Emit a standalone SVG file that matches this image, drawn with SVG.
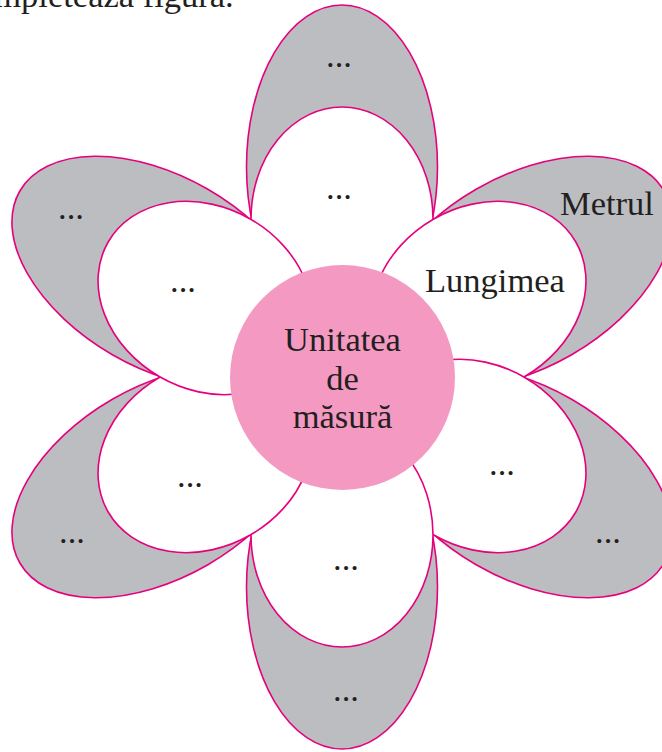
<svg xmlns="http://www.w3.org/2000/svg" width="662" height="752" viewBox="0 0 662 752">
<style>
.outer{fill:#bcbdc0;stroke:#e6007e;stroke-width:1.6}
.inner{fill:#ffffff;stroke:#e6007e;stroke-width:1.6}
.t{font-family:"Liberation Serif","Times New Roman",serif;font-size:34.5px;fill:#231f20}
.m{text-anchor:middle}
</style>
<defs>
<g id="petal">
<ellipse class="outer" cx="342" cy="167" rx="95.5" ry="162"/>
<ellipse class="inner" cx="342" cy="219" rx="91" ry="112"/>
</g>
</defs>
<rect x="0" y="0" width="662" height="752" fill="#ffffff"/>
<text class="t" x="-46" y="7">Completează figura.</text>
<g id="petal-top">
<use href="#petal" transform="rotate(0 342 377)"/>
<text class="t m" x="339" y="67">...</text>
<text class="t m" x="339" y="199">...</text>
</g>
<g id="petal-upper-right">
<use href="#petal" transform="rotate(60 342 377)"/>
<text class="t" x="560" y="215">Metrul</text>
<text class="t" x="425" y="292">Lungimea</text>
</g>
<g id="petal-lower-right">
<use href="#petal" transform="rotate(120 342 377)"/>
<text class="t m" x="502" y="475">...</text>
<text class="t m" x="608" y="543">...</text>
</g>
<g id="petal-bottom">
<use href="#petal" transform="rotate(180 342 377)"/>
<text class="t m" x="346" y="570">...</text>
<text class="t m" x="346" y="701">...</text>
</g>
<g id="petal-lower-left">
<use href="#petal" transform="rotate(240 342 377)"/>
<text class="t m" x="190" y="487">...</text>
<text class="t m" x="72" y="543">...</text>
</g>
<g id="petal-upper-left">
<use href="#petal" transform="rotate(300 342 377)"/>
<text class="t m" x="183" y="292">...</text>
<text class="t m" x="71" y="219">...</text>
</g>
<g id="connectors"></g>
<g id="center">
<circle cx="342.5" cy="377.5" r="112.5" fill="#f49ac2"/>
<text class="t m" x="342.5" y="351">Unitatea</text>
<text class="t m" x="342.5" y="390">de</text>
<text class="t m" x="342.5" y="428">măsură</text>
</g>
</svg>
